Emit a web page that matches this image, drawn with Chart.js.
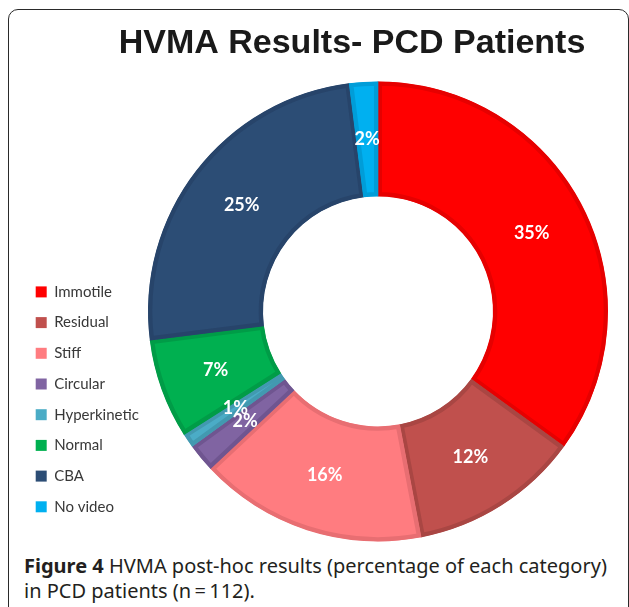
<!DOCTYPE html>
<html>
<head>
<meta charset="utf-8">
<script src="https://cdn.jsdelivr.net/npm/chart.js@4.4.1/dist/chart.umd.min.js"></script>
<style>
  html, body { margin: 0; padding: 0; background: #fff; overflow: hidden; }
  #frame {
    position: absolute; left: 8px; top: 9px; width: 619px; height: 700px;
    border: 1.5px solid #2a2a2a; border-radius: 10px;
  }
  #wrap { position: absolute; left: 10px; top: 10px; width: 618px; height: 540px; }
  #caption {
    position: absolute; left: 24px; top: 553px; width: 605px; white-space: nowrap;
    font-family: "Noto Sans", sans-serif; font-size: 20px; line-height: 25px; color: #231f20;
  }
</style>
</head>
<body>
<div id="frame"></div>
<div id="wrap"><canvas id="hvmaChart"></canvas></div>
<div id="caption"><b>Figure 4</b> HVMA post-hoc results (percentage of each category)<br>in PCD patients (n&#8201;=&#8201;112).</div>
<script>
// Data
const CATEGORIES = ['Immotile', 'Residual', 'Stiff', 'Circular', 'Hyperkinetic', 'Normal', 'CBA', 'No video'];
const PERCENTS = [35, 12, 16, 2, 1, 7, 25, 2];

// Colours (Office palette)
const FILLS = ['#FF0000', '#C0504D', '#FF7C80', '#8064A2', '#4BACC6', '#00B050', '#2C4D75', '#00B0F0'];
const EDGES = ['#E60000', '#A94643', '#E86E72', '#6F5590', '#4299B0', '#009C47', '#27446A', '#009DD8'];

const TITLE_SHIFT = 38;   // title sits left of the ring centre
const LEGEND_SHIFT = 12;

// White percentage labels in the middle of each slice
const sliceLabels = {
    id: 'sliceLabels',
    afterDatasetsDraw(chart) {
        const ctx = chart.ctx;
        const arcs = chart.getDatasetMeta(0).data;
        ctx.save();
        ctx.font = 'bold 18px Lato';
        ctx.fillStyle = '#ffffff';
        ctx.textAlign = 'center';
        ctx.textBaseline = 'middle';
        arcs.forEach((arc, i) => {
            const p = arc.tooltipPosition();
            ctx.fillText(PERCENTS[i] + '%', p.x, p.y);
        });
        ctx.restore();
    }
};

// nudge title and legend to where the original had them
const nudge = {
    id: 'nudge',
    afterLayout(chart) {
        const t = chart.titleBlock;
        t.left += TITLE_SHIFT;
        t.right += TITLE_SHIFT;
        const l = chart.legend;
        l.top -= LEGEND_SHIFT;
        l.bottom -= LEGEND_SHIFT;
    }
};

const baseLabels = Chart.overrides.doughnut.plugins.legend.labels.generateLabels;

new Chart(document.getElementById('hvmaChart'), {
    type: 'doughnut',
    data: {
        labels: CATEGORIES,
        datasets: [{
            data: PERCENTS,
            backgroundColor: FILLS,
            borderColor: EDGES,
            borderWidth: 4,
            borderAlign: 'inner'
        }]
    },
    options: {
        responsive: true,
        maintainAspectRatio: false,
        animation: false,
        cutout: '50%',
        layout: { padding: { left: 10, right: 20, top: 0, bottom: 8 } },
        plugins: {
            title: {
                display: true,
                text: 'HVMA Results- PCD Patients',
                color: '#1a1a1a',
                font: { family: 'Liberation Sans', size: 34, weight: 'bold' },
                padding: { top: 13, bottom: 17 }
            },
            legend: {
                position: 'left',
                align: 'end',
                maxWidth: 128,
                labels: {
                    boxWidth: 11,
                    boxHeight: 11,
                    padding: 15.7,
                    color: '#383838',
                    font: { family: 'Lato', size: 15 },
                    generateLabels: chart => baseLabels(chart).map(item => ({ ...item, lineWidth: 0 }))
                }
            },
            tooltip: { enabled: false }
        }
    },
    plugins: [sliceLabels, nudge]
});
</script>
</body>
</html>
